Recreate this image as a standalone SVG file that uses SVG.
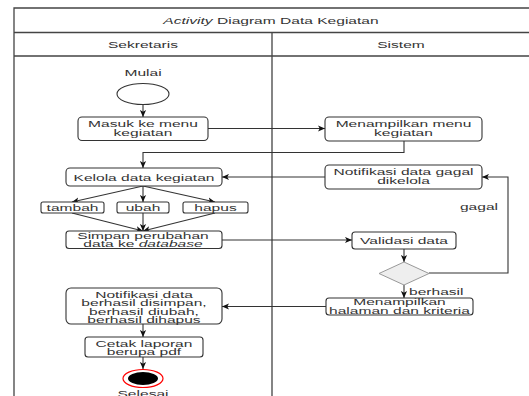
<svg xmlns="http://www.w3.org/2000/svg" width="529" height="396" viewBox="0 0 529 396">
<style>
.t{font-family:"Liberation Sans",Arial,sans-serif;font-size:9px;fill:#333;text-anchor:middle}
.l{text-anchor:start}
.box{fill:#fff;stroke:#333;stroke-width:1.1}
.frame{fill:none;stroke:#444;stroke-width:1.3}
.c{fill:none;stroke:#333;stroke-width:1.1}
</style>
<defs>
<marker id="a" viewBox="0 0 8 8" refX="8" refY="4" markerWidth="7" markerHeight="7" markerUnits="userSpaceOnUse" orient="auto">
<path d="M0,0.5 L8,4 L0,7.5 L2,4 z" fill="#111"/>
</marker>
</defs>
<rect width="529" height="396" fill="#fff"/>
<g id="frame">
<path class="frame" d="M14,410 V8 H540 M14,32.5 H540 M14,56 H540 M272,32.5 V410"/>
<text class="t" transform="matrix(1.73 0 0 1 271 24)"><tspan font-style="italic">Activity</tspan> Diagram Data Kegiatan</text>
<text class="t" transform="matrix(1.73 0 0 1 143 47.5)">Sekretaris</text>
<text class="t" transform="matrix(1.73 0 0 1 401 47.5)">Sistem</text>
</g>
<g id="connectors">
<path class="c" d="M143,104.5 V117" marker-end="url(#a)"/>
<path class="c" d="M208,128.5 H325" marker-end="url(#a)"/>
<path class="c" d="M404,141 V152.5 H143 V168" marker-end="url(#a)"/>
<path class="c" d="M325,177 H222" marker-end="url(#a)"/>
<path class="c" d="M143,186 L72,202" marker-end="url(#a)"/>
<path class="c" d="M143,186 V202" marker-end="url(#a)"/>
<path class="c" d="M143,186 L215,202" marker-end="url(#a)"/>
<path class="c" d="M72,213 L143,231" marker-end="url(#a)"/>
<path class="c" d="M143,213 V231" marker-end="url(#a)"/>
<path class="c" d="M215,213 L143,231" marker-end="url(#a)"/>
<path class="c" d="M222,240 H352" marker-end="url(#a)"/>
<path class="c" d="M404,249 V262" marker-end="url(#a)"/>
<path class="c" d="M429,273 H508 V177 H482" marker-end="url(#a)"/>
<text class="t" transform="matrix(1.73 0 0 1 479 210)">gagal</text>
<path class="c" d="M404,285 V298" marker-end="url(#a)"/>
<text class="t l" transform="matrix(1.73 0 0 1 409 294.5)">berhasil</text>
<path class="c" d="M326,306.5 H222" marker-end="url(#a)"/>
<path class="c" d="M143,324 V337" marker-end="url(#a)"/>
<path class="c" d="M143,357 V369" marker-end="url(#a)"/>
</g>
<g id="mulai">
<text class="t" transform="matrix(1.73 0 0 1 143 75.5)">Mulai</text>
<ellipse cx="143" cy="94" rx="26" ry="10.5" fill="#fff" stroke="#333" stroke-width="1.1"/>
</g>
<g id="masuk">
<rect class="box" x="78" y="117" width="130" height="23.5" rx="4"/>
<text class="t" transform="matrix(1.73 0 0 1 143 127)"><tspan x="0">Masuk ke menu</tspan><tspan x="0" dy="9.5">kegiatan</tspan></text>
</g>
<g id="menampilkan-menu">
<rect class="box" x="325" y="117" width="157" height="24" rx="4"/>
<text class="t" transform="matrix(1.73 0 0 1 403.5 127)"><tspan x="0">Menampilkan menu</tspan><tspan x="0" dy="9.5">kegiatan</tspan></text>
</g>
<g id="kelola">
<rect class="box" x="66" y="168" width="156" height="18" rx="4"/>
<text class="t" transform="matrix(1.73 0 0 1 144 180.5)">Kelola data kegiatan</text>
</g>
<g id="notif-gagal">
<rect class="box" x="325" y="165" width="157" height="24" rx="4"/>
<text class="t" transform="matrix(1.73 0 0 1 403.5 175)"><tspan x="0">Notifikasi data gagal</tspan><tspan x="0" dy="9.5">dikelola</tspan></text>
</g>
<g id="tambah">
<rect class="box" x="41" y="202" width="63" height="11" rx="2"/>
<text class="t" transform="matrix(1.73 0 0 1 72.5 211)">tambah</text>
</g>
<g id="ubah">
<rect class="box" x="117" y="202" width="52" height="11" rx="2"/>
<text class="t" transform="matrix(1.73 0 0 1 143 211)">ubah</text>
</g>
<g id="hapus">
<rect class="box" x="183" y="202" width="65" height="11" rx="2"/>
<text class="t" transform="matrix(1.73 0 0 1 215.5 211)">hapus</text>
</g>
<g id="simpan">
<rect class="box" x="66" y="231" width="156" height="17.5" rx="3"/>
<text class="t" transform="matrix(1.73 0 0 1 143 238.5)"><tspan x="0">Simpan perubahan</tspan><tspan x="0" dy="8.5">data ke <tspan font-style="italic">database</tspan></tspan></text>
</g>
<g id="validasi">
<rect class="box" x="352" y="232" width="104" height="17" rx="3"/>
<text class="t" transform="matrix(1.73 0 0 1 404 243.5)">Validasi data</text>
</g>
<g id="keputusan">
<path d="M404,262 L429,273.5 L404,285 L379,273.5 z" fill="#eee" stroke="#999" stroke-width="1"/>
</g>
<g id="menampilkan-halaman">
<rect class="box" x="326" y="298" width="147" height="17" rx="3"/>
<text class="t" transform="matrix(1.73 0 0 1 399.5 305)"><tspan x="0">Menampilkan</tspan><tspan x="0" dy="8.8">halaman dan kriteria</tspan></text>
</g>
<g id="notif-berhasil">
<rect class="box" x="66" y="288" width="156" height="36" rx="5"/>
<text class="t" transform="matrix(1.73 0 0 1 144 297.5)"><tspan x="0">Notifikasi data</tspan><tspan x="0" dy="8.6">berhasil disimpan,</tspan><tspan x="0" dy="8.6">berhasil diubah,</tspan><tspan x="0" dy="8.3">berhasil dihapus</tspan></text>
</g>
<g id="cetak">
<rect class="box" x="85" y="337" width="118" height="20" rx="3"/>
<text class="t" transform="matrix(1.73 0 0 1 144 346.5)"><tspan x="0">Cetak laporan</tspan><tspan x="0" dy="8.8">berupa pdf</tspan></text>
</g>
<g id="selesai">
<ellipse cx="143" cy="378.5" rx="20" ry="9" fill="#fff" stroke="#ff0000" stroke-width="1.2"/>
<ellipse cx="143" cy="378.5" rx="15" ry="6.5" fill="#000"/>
<text class="t" transform="matrix(1.73 0 0 1 143 397)">Selesai</text>
</g>
</svg>
